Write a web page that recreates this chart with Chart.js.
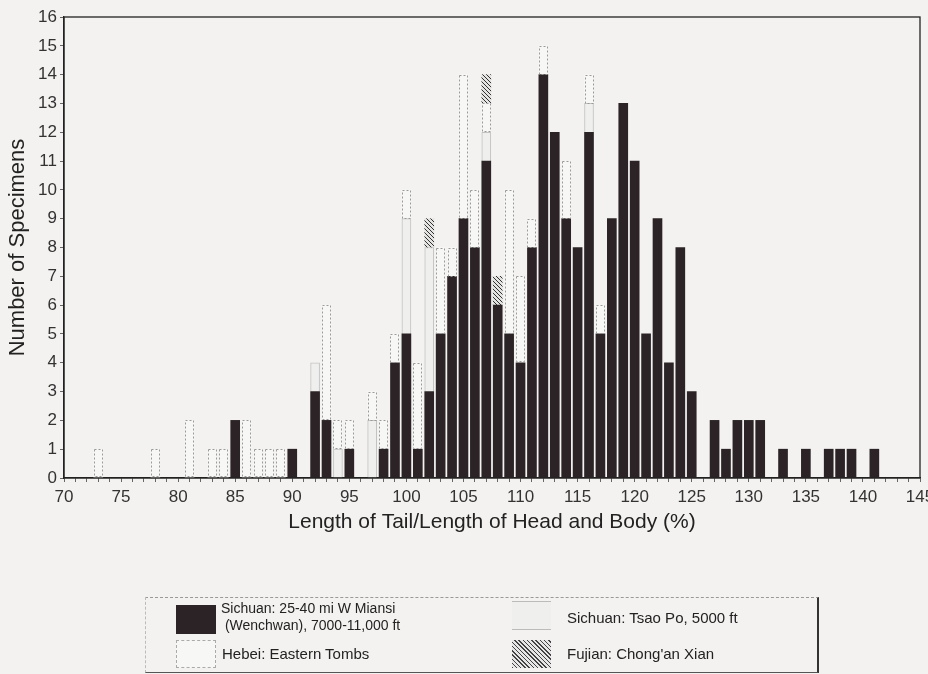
<!DOCTYPE html>
<html><head><meta charset="utf-8">
<script src="https://cdn.jsdelivr.net/npm/chart.js@4.4.1/dist/chart.umd.min.js"></script>
<style>
html,body{margin:0;padding:0;background:#f3f2f0;}
#wrap{position:relative;width:928px;height:674px;overflow:hidden;background:#f3f2f0;}
#c{position:absolute;left:0;top:0;}
#legend{position:absolute;left:145px;top:597px;width:674px;height:76px;box-sizing:border-box;border-top:1px dashed #999;border-left:1px dashed #bbb;border-right:2px solid #333;border-bottom:1px solid #555;}
.t{position:absolute;font-family:"Liberation Sans",Arial,sans-serif;font-size:14px;color:#222;white-space:nowrap;line-height:17px;}
.sw{position:absolute;box-sizing:border-box;}
</style></head>
<body>
<div id="wrap">
<canvas id="c" width="928" height="674"></canvas>
<div id="legend"></div>
<div class="sw" style="left:176px;top:605px;width:40px;height:29px;background:#2b2325;"></div>
<div class="t" style="left:221px;top:600px;">Sichuan: 25-40 mi W Miansi<br>&nbsp;(Wenchwan), 7000-11,000 ft</div>
<div class="sw" style="left:176px;top:640px;width:40px;height:28px;background:#f7f7f5;border:1px dashed #aaa;"></div>
<div class="t" style="left:222px;top:645px;font-size:15px;">Hebei: Eastern Tombs</div>
<div class="sw" style="left:512px;top:601px;width:39px;height:29px;background:#efefed;border-top:1px solid #bbb;border-bottom:1px solid #bbb;"></div>
<div class="t" style="left:567px;top:609px;font-size:15px;">Sichuan: Tsao Po, 5000 ft</div>
<div class="sw" style="left:512px;top:640px;width:39px;height:28px;background:repeating-linear-gradient(45deg,#444 0 1px,#e6e6e6 1px 3px);"></div>
<div class="t" style="left:567px;top:645px;font-size:15px;">Fujian: Chong'an Xian</div>
</div>
<script>
// ---- data ----
const xValues = [73,78,81,83,84,85,86,87,88,89,90,92,93,94,95,97,98,99,100,101,102,103,104,105,106,107,108,109,110,111,112,113,114,115,116,117,118,119,120,121,122,123,124,125,127,128,129,130,131,133,135,137,138,139,141];
const miansi = [0,0,0,0,0, 2,0,0,0,0, 1,3,2,0,1, 0,1,4,5,1, 3,5,7,9,8,11,6,5,4,8, 14,12,9,8,12,5,9,13,11,5, 9,4,8,3, 2,1,2,2,2, 1,1,1,1,1, 1];
const tsaoPo = [0,0,0,0,0, 0,0,0,0,0, 0,1,0,1,0, 2,0,0,4,0, 5,0,0,0,0,1,0,0,0,0, 0,0,0,0,1,0,0,0,0,0, 0,0,0,0, 0,0,0,0,0, 0,0,0,0,0, 0];
const hebei  = [1,1,2,1,1, 0,2,1,1,1, 0,0,4,1,1, 1,1,1,1,3, 0,3,1,5,2,1,0,5,3,1, 1,0,2,0,1,1,0,0,0,0, 0,0,0,0, 0,0,0,0,0, 0,0,0,0,0, 0];
const fujian = [0,0,0,0,0, 0,0,0,0,0, 0,0,0,0,0, 0,0,0,0,0, 1,0,0,0,0,1,1,0,0,0, 0,0,0,0,0,0,0,0,0,0, 0,0,0,0, 0,0,0,0,0, 0,0,0,0,0, 0];
const seriesNames = ["Sichuan: 25-40 mi W Miansi (Wenchwan), 7000-11,000 ft","Sichuan: Tsao Po, 5000 ft","Hebei: Eastern Tombs","Fujian: Chong'an Xian"];
const xMin = 70, xMax = 145, yMin = 0, yMax = 16;
const xTitle = "Length of Tail/Length of Head and Body (%)";
const yTitle = "Number of Specimens";

function pts(arr){ return xValues.map((x,i)=>({x:x,y:arr[i]})).filter(p=>p.y>0); }

// hatch pattern
const pc = document.createElement('canvas'); pc.width=4; pc.height=4;
const pctx = pc.getContext('2d');
pctx.fillStyle='#e4e4e2'; pctx.fillRect(0,0,4,4);
pctx.strokeStyle='#333'; pctx.lineWidth=1;
pctx.beginPath(); pctx.moveTo(-1,-1); pctx.lineTo(5,5); pctx.moveTo(-1,3); pctx.lineTo(1,5); pctx.moveTo(3,-1); pctx.lineTo(5,1); pctx.stroke();
const hatch = document.createElement('canvas').getContext('2d').createPattern(pc,'repeat');

const FONT = '"Liberation Sans", Arial, sans-serif';

const framePlugin = {
  id:'frame',
  afterDatasetsDraw(chart){
    const ctx = chart.ctx;
    const meta = chart.getDatasetMeta(2);
    ctx.save();
    ctx.strokeStyle = '#9a9a9a'; ctx.lineWidth = 1; ctx.setLineDash([2,2]);
    meta.data.forEach(el=>{
      const p = el.getProps(['x','y','base','width'], true);
      ctx.strokeRect(Math.round(p.x - p.width/2)+0.5, Math.round(p.y)+0.5, Math.round(p.width)-1, Math.round(p.base - p.y)-1);
    });
    ctx.restore();
  },
  afterDraw(chart){
    const ctx = chart.ctx, a = chart.chartArea;
    ctx.save();
    ctx.strokeStyle = '#222'; ctx.lineWidth = 1.3;
    ctx.strokeRect(a.left, a.top, a.right - a.left, a.bottom - a.top);
    ctx.restore();
  }
};

new Chart(document.getElementById('c'), {
  type:'bar',
  data:{
    datasets:[
      {label:seriesNames[0], data:pts(miansi), backgroundColor:'#2b2325', borderWidth:0},
      {label:seriesNames[1], data:pts(tsaoPo), backgroundColor:'#efefed', borderColor:'#c2c2c2', borderWidth:1},
      {label:seriesNames[2], data:pts(hebei), backgroundColor:'#f7f7f5', borderWidth:0},
      {label:seriesNames[3], data:pts(fujian), backgroundColor:hatch, borderColor:'#777', borderWidth:0}
    ]
  },
  options:{
    responsive:false, animation:false,
    barThickness:9,
    layout:{padding:{top:17,right:8,left:0,bottom:139}},
    plugins:{legend:{display:false}, tooltip:{enabled:false}},
    scales:{
      x:{
        type:'linear', stacked:true, min:xMin, max:xMax, offset:false,
        grid:{offset:false, drawOnChartArea:false, drawTicks:true, tickLength:4, color:'#666'},
        border:{display:true, color:'#222', width:1.3},
        ticks:{stepSize:1, autoSkip:false, maxRotation:0, padding:5, color:'#333', font:{family:FONT,size:17},
          callback:(v)=> (v%5===0 ? String(v) : '')},
        title:{display:true, text:xTitle, color:'#222', font:{family:FONT,size:21}, padding:{top:0,bottom:0}},
        afterFit(s){ s.height = 57; s.paddingLeft = 0; s.paddingRight = 0; }
      },
      y:{
        stacked:true, min:yMin, max:yMax,
        grid:{drawOnChartArea:false, tickLength:4, color:'#666'},
        border:{display:true, color:'#222', width:1.3},
        ticks:{stepSize:1, padding:3, color:'#333', font:{family:FONT,size:17}},
        title:{display:true, text:yTitle, color:'#222', font:{family:FONT,size:22}, padding:{top:5,bottom:0}},
        afterFit(s){ s.width = 64; s.paddingTop = 0; s.paddingBottom = 0; }
      }
    }
  },
  plugins:[framePlugin]
});
</script>
</body></html>
